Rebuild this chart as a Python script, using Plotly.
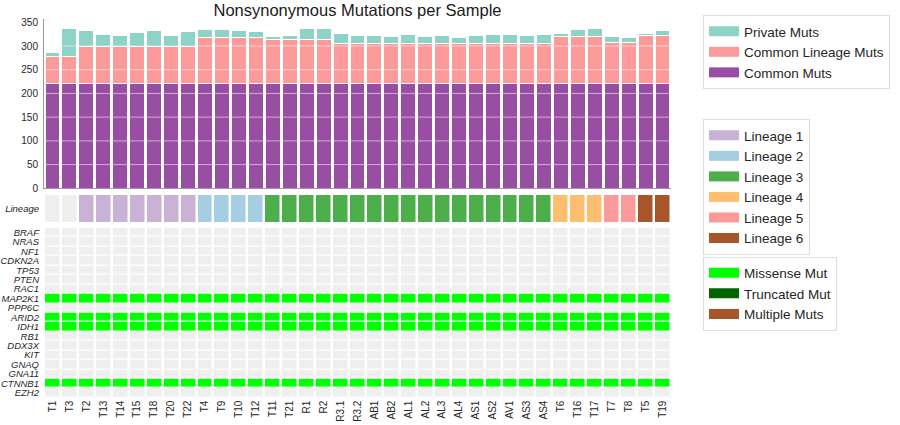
import plotly.graph_objects as go

samples = ["T1", "T3", "T2", "T13", "T14", "T15", "T18", "T20", "T22", "T4", "T9", "T10",
           "T12", "T11", "T21", "R1", "R2", "R3.1", "R3.2", "AB1", "AB2", "AL1", "AL2",
           "AL3", "AL4", "AS1", "AS2", "AV1", "AS3", "AS4", "T6", "T16", "T17", "T7",
           "T8", "T5", "T19"]

common_muts = [221, 221, 221, 221, 221, 221, 221, 221, 221, 221, 221, 221, 221, 221, 221,
               221, 221, 221, 221, 221, 221, 221, 221, 221, 221, 221, 221, 221, 221, 221,
               221, 221, 221, 221, 221, 221, 221]
lineage_muts = [56, 56, 77, 77, 77, 77, 77, 77, 77, 96, 96, 96, 96, 93, 93, 93, 93, 85, 85,
                85, 85, 85, 85, 85, 85, 85, 85, 85, 85, 85, 99, 99, 99, 86, 86, 101, 101]
private_muts = [10, 60, 34, 27, 24, 31, 34, 24, 33, 18, 17, 15, 13, 7, 9, 24, 24, 20, 16,
                16, 15, 19, 14, 16, 13, 16, 19, 18, 16, 18, 7, 14, 18, 13, 10, 4, 11]

sample_lineage = [0, 0, 1, 1, 1, 1, 1, 1, 1, 2, 2, 2, 2, 3, 3, 3, 3, 3, 3, 3, 3, 3, 3, 3, 3,
                  3, 3, 3, 3, 3, 4, 4, 4, 5, 5, 6, 6]

genes = ["BRAF", "NRAS", "NF1", "CDKN2A", "TP53", "PTEN", "RAC1", "MAP2K1", "PPP6C",
         "ARID2", "IDH1", "RB1", "DDX3X", "KIT", "GNAQ", "GNA11", "CTNNB1", "EZH2"]
# mutation code per gene: 0 none, 1 missense, 2 truncated, 3 multiple
gene_status = {
    "MAP2K1": 1, "ARID2": 1, "IDH1": 1, "CTNNB1": 1,
}

y_ticks = [0, 50, 100, 150, 200, 250, 300, 350]

bar_names = ["Private Muts", "Common Lineage Muts", "Common Muts"]
bar_colors = {"Private Muts": "#8dd3c7", "Common Lineage Muts": "#fb9a99",
              "Common Muts": "#984ea3"}
lineage_names = ["Lineage 1", "Lineage 2", "Lineage 3", "Lineage 4", "Lineage 5", "Lineage 6"]
lineage_colors = ["#efefef", "#cab2d6", "#a6cee3", "#4daf4a", "#fdbf6f", "#fb9a99", "#a65628"]
mut_names = ["Missense Mut", "Truncated Mut", "Multiple Muts"]
mut_colors = ["#efefef", "#00ff00", "#006400", "#a65628"]

FONT = "Liberation Sans, Arial, sans-serif"
TXT = "#262626"
W, H = 900, 425
ML, MR, MT, MB = 44, 229, 19, 27
PW, PH = W - ML - MR, H - MT - MB


def fy(px):
    """figure pixel row -> paper fraction"""
    return (H - MB - px) / PH


def fx(px):
    return (px - ML) / PW


def discrete_scale(colors):
    n = len(colors)
    cs = []
    for i, c in enumerate(colors):
        cs.append([i / n, c])
        cs.append([(i + 1) / n, c])
    return cs


fig = go.Figure()

# stacked bars
for name, vals in [("Common Muts", common_muts), ("Common Lineage Muts", lineage_muts),
                   ("Private Muts", private_muts)]:
    fig.add_trace(go.Bar(x=samples, y=vals, name=name, showlegend=False,
                         marker=dict(color=bar_colors[name], line=dict(color="white", width=1)),
                         xaxis="x", yaxis="y"))

# lineage row
fig.add_trace(go.Heatmap(x=samples, y=["Lineage"], z=[sample_lineage],
                         colorscale=discrete_scale(lineage_colors), zmin=-0.5,
                         zmax=len(lineage_colors) - 0.5, showscale=False, xgap=2.5,
                         xaxis="x2", yaxis="y2", hoverinfo="skip"))

# gene matrix
z_genes = [[gene_status.get(g, 0) for _ in samples] for g in genes]
fig.add_trace(go.Heatmap(x=samples, y=genes, z=z_genes,
                         colorscale=discrete_scale(mut_colors), zmin=-0.5,
                         zmax=len(mut_colors) - 0.5, showscale=False, xgap=2.5, ygap=1.2,
                         xaxis="x3", yaxis="y3", hoverinfo="skip"))

# legend entries
for name in bar_names:
    fig.add_trace(go.Scatter(x=[None], y=[None], mode="lines", name=name,
                             line=dict(color=bar_colors[name], width=10), legend="legend",
                             xaxis="x", yaxis="y"))
for i, name in enumerate(lineage_names):
    fig.add_trace(go.Scatter(x=[None], y=[None], mode="lines", name=name,
                             line=dict(color=lineage_colors[i + 1], width=10),
                             legend="legend2", xaxis="x", yaxis="y"))
for i, name in enumerate(mut_names):
    fig.add_trace(go.Scatter(x=[None], y=[None], mode="lines", name=name,
                             line=dict(color=mut_colors[i + 1], width=10),
                             legend="legend3", xaxis="x", yaxis="y"))

# gridlines drawn over bars
for t in y_ticks[1:]:
    fig.add_shape(type="line", xref="x domain", yref="y", x0=0, x1=1, y0=t, y1=t,
                  line=dict(color="rgba(255,255,255,0.55)", width=1), layer="above")

xrange = [-0.5, len(samples) - 0.5]
leg_common = dict(xanchor="left", yanchor="top", bordercolor="#dddddd", borderwidth=1,
                  bgcolor="white", font=dict(family=FONT, size=13.5, color="#262626"),
                  traceorder="normal", itemwidth=30, tracegroupgap=0)

fig.update_layout(
    width=W, height=H,
    margin=dict(l=ML, r=MR, t=MT, b=MB, autoexpand=False),
    paper_bgcolor="white", plot_bgcolor="white",
    barmode="stack", bargap=0.12,
    font=dict(family=FONT, color=TXT),
    title=dict(text="Nonsynonymous Mutations per Sample", x=357.5 / W, xanchor="center",
               y=1 - 10.5 / H, yanchor="middle",
               font=dict(family=FONT, size=16.5, color="#1a1a1a")),
    xaxis=dict(domain=[0, 1], anchor="y", range=xrange, showticklabels=False, showgrid=False,
               showline=True, linecolor="#999999", linewidth=1, ticks="", zeroline=False,
               automargin=False),
    yaxis=dict(domain=[fy(188.3), 1], anchor="x", range=[0, 357],
               tickvals=y_ticks, showgrid=False, showline=True, linecolor="#999999",
               linewidth=1, ticks="", zeroline=False, automargin=False, ticklabelstandoff=3,
               tickfont=dict(family=FONT, size=10, color=TXT)),
    xaxis2=dict(domain=[0, 1], anchor="y2", matches="x", range=xrange, showticklabels=False,
                showgrid=False, showline=False, zeroline=False, ticks="", automargin=False),
    yaxis2=dict(domain=[fy(222.3), fy(195)], anchor="x2", showgrid=False,
                showline=False, zeroline=False, ticks="", automargin=False,
                ticklabelstandoff=4,
                tickfont=dict(family=FONT, size=9.5, color=TXT, style="italic")),
    xaxis3=dict(domain=[0, 1], anchor="y3", matches="x", range=xrange, showgrid=False,
                showline=False, zeroline=False, ticks="", tickangle=-90, automargin=False,
                tickmode="array", tickvals=samples,
                tickfont=dict(family=FONT, size=10, color=TXT)),
    yaxis3=dict(domain=[fy(397.6), fy(227.7)], anchor="x3", showgrid=False,
                showline=False, zeroline=False, ticks="", autorange="reversed",
                automargin=False, tickmode="array", tickvals=genes, ticklabelstandoff=4,
                tickfont=dict(family=FONT, size=9.5, color=TXT, style="italic")),
    legend=dict(x=fx(703), y=fy(15), **leg_common),
    legend2=dict(x=fx(703), y=fy(119), **leg_common),
    legend3=dict(x=fx(703), y=fy(256.5), **leg_common),
)

fig.write_html("out.html", config={"displayModeBar": False},
               post_script="document.body.style.margin='0';document.body.style.padding='0';"
                           "document.body.style.overflow='hidden';")
